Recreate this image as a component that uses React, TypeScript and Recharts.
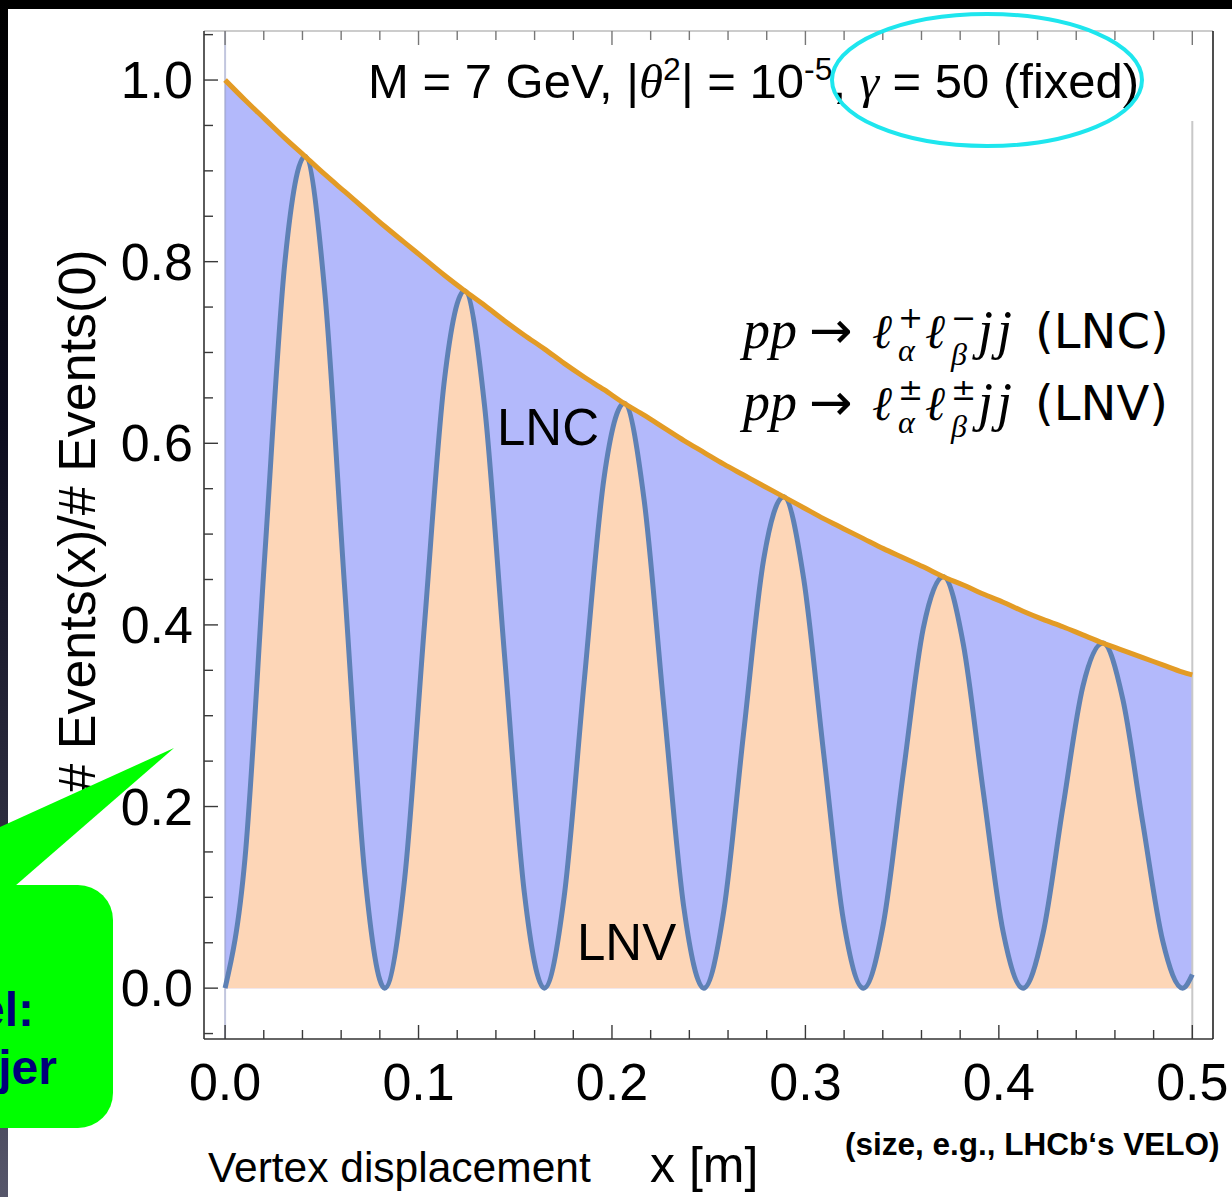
import React from 'react'
import { ComposedChart, Area, Line, XAxis, YAxis, ReferenceLine } from 'recharts'

// vertex displacement x [m]
const xs = [
  0, 0.0103, 0.0206, 0.0309, 0.0413, 0.0516, 0.0619, 0.0722, 0.0825, 0.0928,
  0.1031, 0.1134, 0.1238, 0.1341, 0.1444, 0.1547, 0.165, 0.1753, 0.1856, 0.1959,
  0.2063, 0.2166, 0.2269, 0.2372, 0.2475, 0.2578, 0.2681, 0.2784, 0.2888, 0.2991,
  0.3094, 0.3197, 0.33, 0.3403, 0.3506, 0.3609, 0.3713, 0.3816, 0.3919, 0.4022,
  0.4125, 0.4228, 0.4331, 0.4434, 0.4538, 0.4641, 0.4744, 0.4847, 0.495, 0.5,
]

// total events (LNC + LNV) envelope, normalised to x = 0
const envelope = [
  1.0, 0.978, 0.957, 0.936, 0.916, 0.896, 0.877, 0.858, 0.839, 0.821,
  0.803, 0.785, 0.768, 0.752, 0.735, 0.719, 0.704, 0.688, 0.673, 0.659,
  0.644, 0.631, 0.617, 0.603, 0.59, 0.577, 0.565, 0.553, 0.541, 0.529,
  0.517, 0.506, 0.495, 0.484, 0.474, 0.464, 0.453, 0.444, 0.434, 0.425,
  0.415, 0.406, 0.398, 0.389, 0.38, 0.372, 0.364, 0.356, 0.348, 0.345,
]

// LNV share (oscillating)
const lnv = [
  0, 0.143, 0.479, 0.799, 0.916, 0.765, 0.438, 0.126, 0, 0.12,
  0.401, 0.67, 0.768, 0.642, 0.368, 0.105, 0, 0.101, 0.337, 0.562,
  0.644, 0.538, 0.308, 0.088, 0, 0.085, 0.282, 0.472, 0.541, 0.451,
  0.259, 0.074, 0, 0.071, 0.237, 0.396, 0.453, 0.379, 0.217, 0.062,
  0, 0.06, 0.199, 0.332, 0.38, 0.318, 0.182, 0.052, 0, 0.015,
]

const xTicks = [
  0, 0.02, 0.04, 0.06, 0.08, 0.1, 0.12, 0.14, 0.16, 0.18, 0.2, 0.22, 0.24,
  0.26, 0.28, 0.3, 0.32, 0.34, 0.36, 0.38, 0.4, 0.42, 0.44, 0.46, 0.48, 0.5,
]
const yTicks = [
  -0.05, 0, 0.05, 0.1, 0.15, 0.2, 0.25, 0.3, 0.35, 0.4, 0.45, 0.5, 0.55,
  0.6, 0.65, 0.7, 0.75, 0.8, 0.85, 0.9, 0.95, 1.0, 1.05,
]

const rows = xs.map((x, i) => ({ x, envelope: envelope[i], lnv: lnv[i] }))

const SANS = "'Liberation Sans', Arial, Helvetica, sans-serif"
const SERIF = "'Liberation Serif', 'DejaVu Serif', serif"
const MATH_SANS = "'DejaVu Sans', sans-serif"

const X_DOMAIN = [-0.0109, 0.5107]
const Y_DOMAIN = [-0.056, 1.054]

const isMajorX = (v: number) => Math.abs(v * 10 - Math.round(v * 10)) < 1e-6
const isMajorY = (v: number) => Math.abs(v * 5 - Math.round(v * 5)) < 1e-6

const TICK = '#3a3a3a'

function BottomTick({ x, y, payload }: any) {
  const major = isMajorX(payload.value)
  return (
    <g>
      <line x1={x} y1={y} x2={x} y2={y - (major ? 14 : 9)} stroke={TICK} strokeWidth={1.4} />
      {major && (
        <text x={x} y={y + 61} textAnchor="middle" fontSize={52} fontFamily={SANS} fill="#000">
          {payload.value.toFixed(1)}
        </text>
      )}
    </g>
  )
}

function TopTick({ x, y, payload }: any) {
  const major = isMajorX(payload.value)
  return <line x1={x} y1={y} x2={x} y2={y + (major ? 14 : 9)} stroke="#777" strokeWidth={1.4} />
}

function LeftTick({ x, y, payload }: any) {
  const major = isMajorY(payload.value)
  return (
    <g>
      <line x1={x} y1={y} x2={x + (major ? 14 : 9)} y2={y} stroke={TICK} strokeWidth={1.4} />
      {major && payload.value >= 0 && (
        <text x={x - 11} y={y + 18} textAnchor="end" fontSize={52} fontFamily={SANS} fill="#000">
          {payload.value.toFixed(1)}
        </text>
      )}
    </g>
  )
}

function RightTick({ x, y, payload }: any) {
  const major = isMajorY(payload.value)
  return <line x1={x} y1={y} x2={x - (major ? 14 : 9)} y2={y} stroke={TICK} strokeWidth={1.4} />
}

function Formula({ y, sup1, sup2, tag }: { y: number; sup1: string; sup2: string; tag: string }) {
  return (
    <g fill="#000">
      <text x={743} y={y} fontSize={54} fontStyle="italic" fontFamily={SERIF}>pp</text>
      <text x={809} y={y} fontSize={52} fontFamily={MATH_SANS}>→</text>
      <text x={872} y={y} fontSize={48} fontStyle="italic" fontFamily={SERIF}>ℓ</text>
      <text x={898} y={y - 20} fontSize={30} fontFamily={MATH_SANS}>{sup1}</text>
      <text x={898} y={y + 13} fontSize={32} fontStyle="italic" fontFamily={SERIF}>α</text>
      <text x={925} y={y} fontSize={48} fontStyle="italic" fontFamily={SERIF}>ℓ</text>
      <text x={951} y={y - 20} fontSize={30} fontFamily={MATH_SANS}>{sup2}</text>
      <text x={951} y={y + 17} fontSize={32} fontStyle="italic" fontFamily={SERIF}>β</text>
      <text x={978} y={y} fontSize={54} letterSpacing={4} fontStyle="italic" fontFamily={SERIF}>jj</text>
      <text x={1035} y={y} fontSize={48} fontFamily={MATH_SANS}>{tag}</text>
    </g>
  )
}

export default function App() {
  return (
    <div style={{ position: 'absolute', left: 0, top: 0, width: 1232, height: 1197, background: '#fff', overflow: 'hidden' }}>
      <div style={{ position: 'absolute', left: 0, top: 0, width: 1232, height: 9, background: '#000' }} />
      <div style={{ position: 'absolute', left: 0, top: 0, width: 8, height: 1197, background: 'linear-gradient(#000 0%, #0c0c1e 35%, #2e2e40 70%, #56566a 100%)' }} />
      <div style={{ position: 'absolute', left: 0, top: 0 }}>
        <ComposedChart width={1232} height={1197} data={rows} margin={{ top: 30, right: 18, bottom: 157, left: 203 }}>
          <XAxis xAxisId="b" dataKey="x" type="number" domain={X_DOMAIN} ticks={xTicks} interval={0} orientation="bottom" height={1} tickSize={0} tickMargin={0} axisLine={{ stroke: '#333', strokeWidth: 1.6 }} tickLine={false} tick={<BottomTick />} />
          <XAxis xAxisId="t" dataKey="x" type="number" domain={X_DOMAIN} ticks={xTicks} interval={0} orientation="top" height={1} tickSize={0} tickMargin={0} axisLine={{ stroke: '#999', strokeWidth: 1.2 }} tickLine={false} tick={<TopTick />} />
          <YAxis yAxisId="l" type="number" domain={Y_DOMAIN} ticks={yTicks} interval={0} orientation="left" width={1} tickSize={0} tickMargin={0} axisLine={{ stroke: '#333', strokeWidth: 1.6 }} tickLine={false} tick={<LeftTick />} />
          <YAxis yAxisId="r" type="number" domain={Y_DOMAIN} ticks={yTicks} interval={0} orientation="right" width={1} tickSize={0} tickMargin={0} axisLine={{ stroke: '#222', strokeWidth: 1.6 }} tickLine={false} tick={<RightTick />} />

          <Area xAxisId="b" yAxisId="l" dataKey="envelope" type="monotone" baseValue={0} fill="#b3b9fb" fillOpacity={1} stroke="none" isAnimationActive={false} />
          <Area xAxisId="b" yAxisId="l" dataKey="lnv" type="monotone" baseValue={0} fill="#fdd6b7" fillOpacity={1} stroke="none" isAnimationActive={false} />

          <ReferenceLine xAxisId="b" yAxisId="l" x={0} stroke="#9aa0c8" strokeOpacity={0.6} strokeWidth={2} />
          <ReferenceLine xAxisId="b" yAxisId="l" segment={[{ x: 0.5, y: -0.056 }, { x: 0.5, y: 0.955 }]} stroke="#c8c8c8" strokeWidth={2} />

          <Line xAxisId="b" yAxisId="l" dataKey="lnv" type="monotone" stroke="#5e81b5" strokeWidth={5} dot={false} activeDot={false} isAnimationActive={false} />
          <Line xAxisId="b" yAxisId="l" dataKey="envelope" type="monotone" stroke="#e39b25" strokeWidth={5} dot={false} activeDot={false} isAnimationActive={false} />
        </ComposedChart>
      </div>

      <svg width={1232} height={1197} style={{ position: 'absolute', left: 0, top: 0, pointerEvents: 'none' }}>
        {/* title */}
        <text x={368} y={98} fontSize={49} fontFamily={SANS} fill="#000">
          {'M = 7 GeV, |'}
          <tspan fontStyle="italic" fontFamily={SERIF}>θ</tspan>
          <tspan dy={-18} fontSize={32}>2</tspan>
          <tspan dy={18}>{'| = 10'}</tspan>
          <tspan dy={-18} fontSize={32}>-5</tspan>
          <tspan dy={18}>{', '}</tspan>
          <tspan fontStyle="italic" fontFamily={SERIF}>γ</tspan>
          <tspan>{' = 50 (fixed)'}</tspan>
        </text>
        <ellipse cx={987} cy={80} rx={155} ry={66} fill="none" stroke="#1ee6ee" strokeWidth={4} />

        <Formula y={348} sup1="+" sup2="−" tag="(LNC)" />
        <Formula y={420} sup1="±" sup2="±" tag="(LNV)" />

        <text x={497} y={445} fontSize={51} fontFamily={SANS} fill="#000">LNC</text>
        <text x={577} y={960} fontSize={51} fontFamily={SANS} fill="#000">LNV</text>

        {/* axis titles */}
        <text transform="translate(95,521) rotate(-90)" textAnchor="middle" fontSize={52} fontFamily={SANS} fill="#000">
          # Events(x)/# Events(0)
        </text>
        <text x={208} y={1182} fontSize={42.5} fontFamily={SANS} fill="#000">Vertex displacement</text>
        <text x={650} y={1182} fontSize={50} fontFamily={SANS} fill="#000">x [m]</text>
        <text x={845} y={1155} fontSize={31.5} fontWeight="bold" fontFamily={SANS} fill="#000">(size, e.g., LHCb‘s VELO)</text>

        {/* green callout */}
        <polygon points="-20,836 174,748 15,886 -20,886" fill="#00ff00" />
        <rect x={-40} y={885} width={153} height={243} rx={35} fill="#00ff00" />
        <text x={34} y={1026} textAnchor="end" fontSize={48} fontWeight="bold" fontFamily={SANS} fill="#00007a">el:</text>
        <text x={57} y={1084} textAnchor="end" fontSize={48} fontWeight="bold" fontFamily={SANS} fill="#00007a">jer</text>
      </svg>
    </div>
  )
}
